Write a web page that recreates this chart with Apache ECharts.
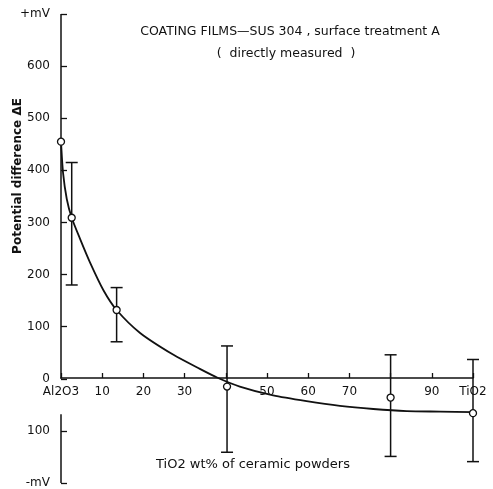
<!DOCTYPE html>
<html>
<head>
  <meta charset="UTF-8">
  <script src="https://cdnjs.cloudflare.com/ajax/libs/echarts/6.0.0/echarts.min.js"></script>
  <title></title>
  <style>
    body { margin: 0; background: #fff; }
    #chart { width: 493px; height: 489px; }
  </style>
</head>
<body>
  <div id="chart"></div>
  <script>
  // measured points (TiO2 wt%) with error bars
  const pointX = [0, 2.6, 13.5, 40.3, 80, 100];
  const pointY = [455, 309, 132, -15, -36, -66];
  const errLow = [null, 180, 71, -141, -149, -159];
  const errHigh = [null, 415, 175, 63, 46, 37];

  // fitted curve
  const curveX = [0, 0.5, 1.4, 2.6, 4.6, 7.0, 10.3, 13.5, 19.2, 27.3, 33.7, 38, 43.4, 51.5, 59.6, 67.7, 75.8, 83.9, 92, 100];
  const curveY = [455, 395, 345, 309, 269, 224, 170, 132, 88, 46, 19, 2, -15, -32, -43, -52, -58, -62, -63, -64];

  // axis labels
  const xLabels = {0: 'Al2O3', 10: '10', 20: '20', 30: '30', 40: '', 50: '50', 60: '60', 70: '70', 80: '', 90: '90', 100: 'TiO2'};
  const yLabels = {700: '+mV', 600: '600', 500: '500', 400: '400', 300: '300', 200: '200', 100: '100', 0: '0', '-100': '100', '-200': '-mV'};

  const ink = '#111';
  const font = 'DejaVu Sans';

  let chart = echarts.init(document.getElementById('chart'));

  let errData = [];
  for (let i = 0; i < pointX.length; i++) {
    if (errLow[i] != null) errData.push([pointX[i], errLow[i], errHigh[i]]);
  }

  chart.setOption({
    animation: false,
    backgroundColor: '#fff',
    textStyle: { fontFamily: font, color: ink },
    grid: { left: 61, right: 20, top: 14, bottom: 2.5 },
    xAxis: {
      type: 'value', min: 0, max: 100, interval: 10,
      offset: -105,
      axisLine: { onZero: false, lineStyle: { color: ink, width: 1.5 } },
      axisTick: { inside: true, length: 5, lineStyle: { color: ink, width: 1.3 } },
      axisLabel: { color: ink, fontSize: 12, margin: 8, formatter: v => xLabels[v] },
      splitLine: { show: false }
    },
    yAxis: {
      type: 'value', min: -200, max: 700, interval: 100,
      axisLine: { show: false },
      axisTick: { show: true, inside: true, length: 6, lineStyle: { color: ink, width: 1.3 } },
      axisLabel: { color: ink, fontSize: 12, margin: 11, formatter: v => yLabels[v] },
      splitLine: { show: false }
    },
    graphic: [
      { type: 'text', x: 290, y: 32,
        style: { text: 'COATING FILMS\u2014SUS 304 , surface treatment A', fill: ink, font: '12.5px ' + font, align: 'center', verticalAlign: 'middle' } },
      { type: 'text', x: 286, y: 54,
        style: { text: '(  directly measured  )', fill: ink, font: '12.5px ' + font, align: 'center', verticalAlign: 'middle' } },
      { type: 'text', x: 18, y: 176, rotation: Math.PI / 2,
        style: { text: 'Potential difference \u0394E', fill: ink, font: 'bold 12px ' + font, align: 'center', verticalAlign: 'middle' } },
      { type: 'text', x: 253, y: 465,
        style: { text: 'TiO2 wt% of ceramic powders', fill: ink, font: '13px ' + font, align: 'center', verticalAlign: 'middle' } }
    ],
    series: [
      {
        type: 'line',
        data: curveX.map((x, i) => [x, curveY[i]]),
        smooth: 0.25,
        symbol: 'none',
        lineStyle: { color: ink, width: 1.8 },
        z: 2,
        markLine: {
          silent: true,
          symbol: ['none', 'none'],
          label: { show: false },
          lineStyle: { color: ink, width: 1.5, type: 'solid' },
          data: [
            [{ coord: [0, 700] }, { coord: [0, 0] }],
            [{ coord: [0, -68] }, { coord: [0, -200] }]
          ]
        }
      },
      {
        type: 'custom',
        data: errData,
        z: 3,
        renderItem: function (params, api) {
          let lo = api.coord([api.value(0), api.value(1)]);
          let hi = api.coord([api.value(0), api.value(2)]);
          let w = 6;
          let st = { stroke: ink, lineWidth: 1.5 };
          return {
            type: 'group',
            children: [
              { type: 'line', shape: { x1: lo[0], y1: lo[1], x2: hi[0], y2: hi[1] }, style: st },
              { type: 'line', shape: { x1: lo[0] - w, y1: lo[1], x2: lo[0] + w, y2: lo[1] }, style: st },
              { type: 'line', shape: { x1: hi[0] - w, y1: hi[1], x2: hi[0] + w, y2: hi[1] }, style: st }
            ]
          };
        }
      },
      {
        type: 'scatter',
        data: pointX.map((x, i) => [x, pointY[i]]),
        symbol: 'circle',
        symbolSize: 7,
        itemStyle: { color: '#fff', borderColor: ink, borderWidth: 1.3, opacity: 1 },
        z: 5
      }
    ]
  });
  </script>
</body>
</html>
